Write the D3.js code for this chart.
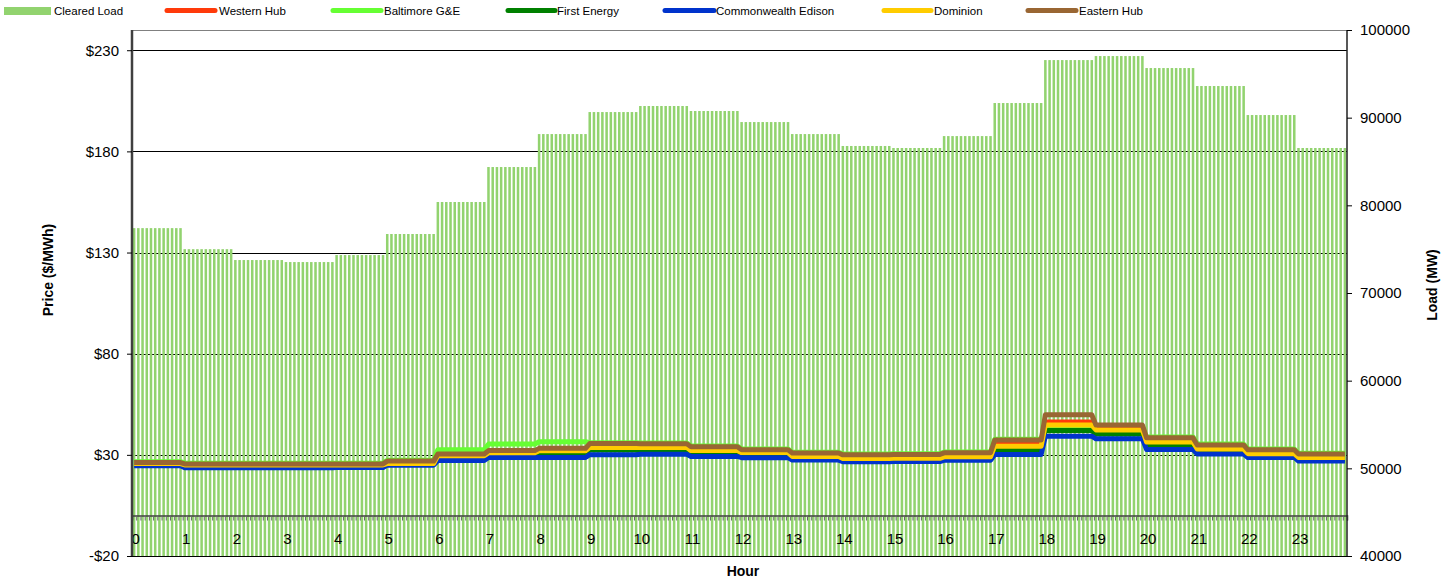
<!DOCTYPE html>
<html>
<head>
<meta charset="utf-8">
<script src="https://cdn.jsdelivr.net/npm/d3@7"></script>
<style>
  html, body { margin: 0; padding: 0; background: #fff; }
  svg { display: block; font-family: "Liberation Sans", Arial, sans-serif; }
</style>
</head>
<body>
<svg id="chart" width="1443" height="579"></svg>
<script>
// Hour-of-day categories (each hour holds twelve 5-minute intervals)
const hourLabels = ["0","1","2","3","4","5","6","7","8","9","10","11","12","13","14","15","16","17","18","19","20","21","22","23"];
const intervalsPerHour = 12;

// Cleared load, MW, per hour
const clearedLoad = [77400, 75000, 73760, 73530, 74330, 76730, 80380, 84370, 88130, 90640, 91330, 90760,
                     89500, 88130, 86770, 86540, 87900, 91670, 96570, 97030, 95660, 93610, 90300, 86540];

// Hourly prices, $/MWh
const westernHub   = [25.9, 25.2, 25.2, 25.2, 25.2, 26.4, 29.5, 31.0, 32.0, 34.5, 34.4, 33.0,
                      31.6, 30.0, 29.2, 29.4, 30.2, 35.8, 46.2, 43.8, 37.5, 34.0, 31.7, 29.6];
const baltimoreGE  = [26.6, 25.9, 25.9, 25.9, 25.9, 27.3, 32.5, 35.3, 36.5, 36.0, 35.9, 34.4,
                      32.9, 31.3, 30.4, 30.6, 31.4, 37.7, 44.0, 41.0, 38.8, 35.3, 32.9, 30.8];
const firstEnergy  = [25.6, 24.9, 24.9, 24.9, 24.9, 25.6, 29.4, 29.9, 31.1, 32.4, 31.8, 31.0,
                      30.0, 28.2, 27.4, 27.5, 28.2, 32.4, 42.0, 40.3, 34.3, 31.6, 29.6, 27.8];
const comEd        = [24.6, 23.6, 23.6, 23.6, 23.7, 24.9, 27.2, 28.7, 28.7, 30.1, 30.3, 29.2,
                      28.6, 27.4, 26.6, 26.7, 27.3, 30.2, 39.2, 37.9, 32.6, 30.4, 28.7, 26.9];
const dominion     = [25.7, 25.0, 25.0, 25.0, 25.0, 25.7, 29.6, 31.0, 32.0, 33.6, 33.6, 32.1,
                      31.1, 29.2, 28.2, 28.3, 29.0, 34.3, 44.7, 42.3, 36.3, 32.9, 30.6, 28.7];
const easternHub   = [26.2, 25.5, 25.5, 25.5, 25.5, 26.9, 30.4, 32.1, 33.2, 35.6, 35.5, 34.0,
                      32.5, 30.9, 30.0, 30.2, 31.0, 37.3, 49.8, 44.7, 38.4, 34.9, 32.5, 30.4];

const priceTicks = [-20, 30, 80, 130, 180, 230];
const loadTicks = [40000, 50000, 60000, 70000, 80000, 90000, 100000];

const series = [
  { name: "Western Hub",         values: westernHub,  color: "#ff3a0a" },
  { name: "Baltimore G&E",       values: baltimoreGE, color: "#66ff33" },
  { name: "First Energy",        values: firstEnergy, color: "#008000" },
  { name: "Commonwealth Edison", values: comEd,       color: "#0033cc" },
  { name: "Dominion",            values: dominion,    color: "#ffcc00" },
  { name: "Eastern Hub",         values: easternHub,  color: "#996633" }
];

const plot = { left: 132, right: 1347, top: 30, bottom: 556 };
const nIntervals = hourLabels.length * intervalsPerHour;
const intervals = d3.range(nIntervals);
const hourOf = i => Math.floor(i / intervalsPerHour);

const svg = d3.select("#chart");

const x = d3.scaleBand().domain(intervals).range([plot.left, plot.right])
  .paddingInner(0.4).paddingOuter(0.2);
const xEdge = d3.scaleLinear().domain([0, nIntervals]).range([plot.left, plot.right]);
const yPrice = d3.scaleLinear().domain([-20, 240]).range([plot.bottom, plot.top]);
const yLoad = d3.scaleLinear().domain([40000, 100000]).range([plot.bottom, plot.top]);

// Horizontal gridlines at price ticks (behind the load bars)
svg.append("g").selectAll("line").data(priceTicks).join("line")
  .attr("x1", plot.left).attr("x2", plot.right)
  .attr("y1", d => Math.round(yPrice(d)) + 0.5).attr("y2", d => Math.round(yPrice(d)) + 0.5)
  .attr("stroke", "#000").attr("stroke-width", 1);

// Top border of the plot area
svg.append("line")
  .attr("x1", plot.left).attr("x2", plot.right)
  .attr("y1", plot.top + 0.5).attr("y2", plot.top + 0.5)
  .attr("stroke", "#808080").attr("stroke-width", 1);

// Cleared load bars, one per 5-minute interval
svg.append("g").selectAll("rect").data(intervals).join("rect")
  .attr("x", i => x(i))
  .attr("width", x.bandwidth())
  .attr("y", i => yLoad(clearedLoad[hourOf(i)]))
  .attr("height", i => plot.bottom - yLoad(clearedLoad[hourOf(i)]))
  .attr("fill", "#92d36f");

// Category axis crossing the price axis at $0
const gx = svg.append("g").attr("transform", `translate(0,${yPrice(0)})`);
gx.call(d3.axisBottom(xEdge).tickValues(d3.range(nIntervals + 1)).tickSize(5).tickFormat(""))
  .call(g => g.select(".domain").attr("stroke", "#404040").attr("stroke-width", 1.5))
  .call(g => g.selectAll(".tick line").attr("stroke", "#666"));

const gxl = svg.append("g").attr("transform", `translate(1.5,${yPrice(0)})`);
gxl.call(d3.axisBottom(x)
    .tickValues(d3.range(0, nIntervals, intervalsPerHour))
    .tickSize(0).tickPadding(18)
    .tickFormat(i => hourLabels[hourOf(i)]))
  .call(g => g.select(".domain").remove())
  .call(g => g.selectAll("text").attr("font-size", 15).attr("fill", "#000")
    .attr("font-family", "Liberation Sans, Arial, sans-serif"));

// Price lines
const line = d3.line()
  .x(i => x(i) + x.bandwidth() / 2);
series.forEach(s => {
  svg.append("path")
    .datum(intervals)
    .attr("d", line.y(i => yPrice(s.values[hourOf(i)])))
    .attr("fill", "none")
    .attr("stroke", s.color)
    .attr("stroke-width", 5)
    .attr("stroke-linejoin", "round");
});

// Left price axis
svg.append("g").attr("transform", `translate(${plot.left},0)`)
  .call(d3.axisLeft(yPrice).tickValues(priceTicks).tickSize(5).tickPadding(8)
    .tickFormat(d => (d < 0 ? "-$" : "$") + Math.abs(d)))
  .call(g => g.select(".domain").attr("stroke", "#404040").attr("stroke-width", 2.5).attr("d", `M0,${plot.top}V${plot.bottom}`))
  .call(g => g.selectAll(".tick line").attr("stroke", "#000"))
  .call(g => g.selectAll("text").attr("font-size", 15).attr("fill", "#000")
    .attr("font-family", "Liberation Sans, Arial, sans-serif"));

// Right load axis
svg.append("g").attr("transform", `translate(${plot.right},0)`)
  .call(d3.axisRight(yLoad).tickValues(loadTicks).tickSize(5).tickPadding(8)
    .tickFormat(d3.format("d")))
  .call(g => g.select(".domain").attr("stroke", "#202020").attr("stroke-width", 1.5).attr("d", `M0,${plot.top}V${plot.bottom}`))
  .call(g => g.selectAll(".tick line").attr("stroke", "#000"))
  .call(g => g.selectAll("text").attr("font-size", 15).attr("fill", "#000")
    .attr("font-family", "Liberation Sans, Arial, sans-serif"));

// Axis titles
svg.append("text")
  .attr("transform", `translate(53,${(plot.top + plot.bottom) / 2 - 23}) rotate(-90)`)
  .attr("text-anchor", "middle").attr("font-size", 14).attr("font-weight", "bold")
  .text("Price ($/MWh)");
svg.append("text")
  .attr("transform", `translate(1437,${(plot.top + plot.bottom) / 2 - 8}) rotate(-90)`)
  .attr("text-anchor", "middle").attr("font-size", 14).attr("font-weight", "bold")
  .text("Load (MW)");
svg.append("text")
  .attr("x", 743).attr("y", 576)
  .attr("text-anchor", "middle").attr("font-size", 14).attr("font-weight", "bold")
  .text("Hour");

// Legend
const legend = svg.append("g").attr("font-size", 11.5);
const legendItems = [
  { name: "Cleared Load", color: "#92d36f", bar: true, x0: 4, x1: 51, tx: 54 },
  { ...series[0], x0: 167, x1: 215, tx: 219 },
  { ...series[1], x0: 333, x1: 381, tx: 384 },
  { ...series[2], x0: 508, x1: 555, tx: 557 },
  { ...series[3], x0: 665, x1: 714, tx: 716 },
  { ...series[4], x0: 884, x1: 931, tx: 934 },
  { ...series[5], x0: 1028, x1: 1076, tx: 1079 }
];
legendItems.forEach(d => {
  if (d.bar) {
    legend.append("rect").attr("x", d.x0).attr("y", 7).attr("width", d.x1 - d.x0).attr("height", 8)
      .attr("fill", d.color);
  } else {
    legend.append("line").attr("x1", d.x0).attr("x2", d.x1).attr("y1", 10.5).attr("y2", 10.5)
      .attr("stroke", d.color).attr("stroke-width", 5).attr("stroke-linecap", "round");
  }
  legend.append("text").attr("x", d.tx).attr("y", 15).attr("fill", "#000").text(d.name);
});
</script>
</body>
</html>
